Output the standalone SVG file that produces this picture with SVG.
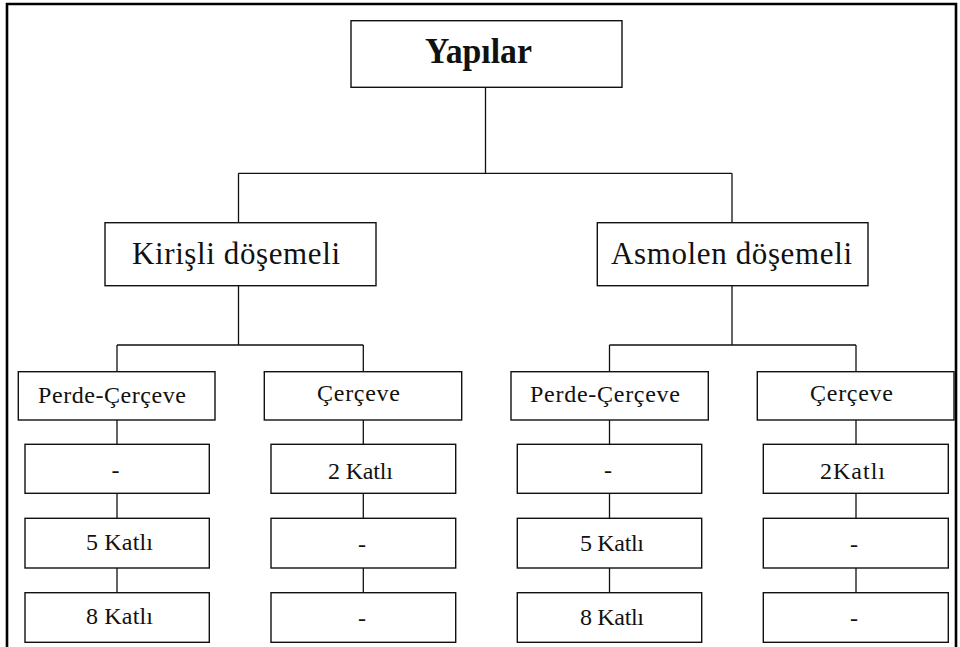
<svg xmlns="http://www.w3.org/2000/svg" width="960" height="647" viewBox="0 0 960 647">
<style>
.bx{fill:#fff;stroke:#111;stroke-width:1.4}
.cn{fill:none;stroke:#111;stroke-width:1.3}
.fr{fill:none;stroke:#000;stroke-width:2.6}
text{font-family:"Liberation Serif","Times New Roman",serif;fill:#111}
.t1{font-size:35px;font-weight:bold}
.t2{font-size:31px}
.t3{font-size:24px}
.m{text-anchor:middle}
</style>
<rect width="960" height="647" fill="#fff"/>
<path class="fr" d="M7,647 V4 H956 V647"/>
<g id="connectors">
<path class="cn" d="M485.5,87 V173.3 M238.5,173.3 H732 M238.5,173.3 V222.7 M732,173.3 V222.7"/>
<path class="cn" d="M238.5,285.7 V345 M117,345 H363.3 M117,345 V371.7 M363.3,345 V371.7"/>
<path class="cn" d="M732,285.7 V345 M609.5,345 H856 M609.5,345 V371.7 M856,345 V371.7"/>
<path class="cn" d="M117,420 V444.3 M117,493.3 V518.3 M117,568 V592.7"/>
<path class="cn" d="M363.3,420 V444.3 M363.3,493.3 V518.3 M363.3,568 V592.7"/>
<path class="cn" d="M609.5,420 V444.3 M609.5,493.3 V518.3 M609.5,568 V592.7"/>
<path class="cn" d="M856,420 V444.3 M856,493.3 V518.3 M856,568 V592.7"/>
</g>
<g id="yapilar"><rect class="bx" x="351" y="20.7" width="271" height="66.6"/><text class="t1" x="425" y="63.3" textLength="107" lengthAdjust="spacingAndGlyphs">Yapılar</text></g>
<g id="kirisli"><rect class="bx" x="105" y="222.7" width="271" height="63"/><text class="t2" x="132" y="264" textLength="208" lengthAdjust="spacing">Kirişli döşemeli</text></g>
<g id="asmolen"><rect class="bx" x="597.3" y="222.7" width="270.7" height="63"/><text class="t2" x="611" y="264" textLength="241" lengthAdjust="spacing">Asmolen döşemeli</text></g>
<g id="k-perde"><rect class="bx" x="18.3" y="371.7" width="196.7" height="48.3"/><text class="t3" x="38" y="403" textLength="148" lengthAdjust="spacing">Perde-Çerçeve</text></g>
<g id="k-cerceve"><rect class="bx" x="264.3" y="371.7" width="197.4" height="48.3"/><text class="t3" x="317" y="401" textLength="83" lengthAdjust="spacing">Çerçeve</text></g>
<g id="a-perde"><rect class="bx" x="511" y="371.7" width="197.3" height="48.3"/><text class="t3" x="530" y="402" textLength="150" lengthAdjust="spacing">Perde-Çerçeve</text></g>
<g id="a-cerceve"><rect class="bx" x="757.3" y="371.7" width="196.7" height="48.3"/><text class="t3" x="810" y="401" textLength="83" lengthAdjust="spacing">Çerçeve</text></g>
<g id="k-p1"><rect class="bx" x="25" y="444.3" width="184.3" height="49"/><text class="t3 m" x="115.5" y="478">-</text></g>
<g id="k-p2"><rect class="bx" x="25" y="518.3" width="184.3" height="49.7"/><text class="t3" x="86" y="550" textLength="67" lengthAdjust="spacing">5 Katlı</text></g>
<g id="k-p3"><rect class="bx" x="25" y="592.7" width="184.3" height="49.6"/><text class="t3" x="86" y="624" textLength="67" lengthAdjust="spacing">8 Katlı</text></g>
<g id="k-c1"><rect class="bx" x="271" y="444.3" width="184.7" height="49"/><text class="t3" x="328" y="478.5" textLength="65" lengthAdjust="spacing">2 Katlı</text></g>
<g id="k-c2"><rect class="bx" x="271" y="518.3" width="184.7" height="49.7"/><text class="t3 m" x="362" y="552">-</text></g>
<g id="k-c3"><rect class="bx" x="271" y="592.7" width="184.7" height="49.6"/><text class="t3 m" x="362" y="626">-</text></g>
<g id="a-p1"><rect class="bx" x="517.3" y="444.3" width="184.4" height="49"/><text class="t3 m" x="608" y="478">-</text></g>
<g id="a-p2"><rect class="bx" x="517.3" y="518.3" width="184.4" height="49.7"/><text class="t3" x="580" y="551" textLength="64" lengthAdjust="spacing">5 Katlı</text></g>
<g id="a-p3"><rect class="bx" x="517.3" y="592.7" width="184.4" height="49.6"/><text class="t3" x="580" y="624.5" textLength="64" lengthAdjust="spacing">8 Katlı</text></g>
<g id="a-c1"><rect class="bx" x="763.3" y="444.3" width="185" height="49"/><text class="t3" x="820" y="479" textLength="65" lengthAdjust="spacing">2Katlı</text></g>
<g id="a-c2"><rect class="bx" x="763.3" y="518.3" width="185" height="49.7"/><text class="t3 m" x="854" y="552">-</text></g>
<g id="a-c3"><rect class="bx" x="763.3" y="592.7" width="185" height="49.6"/><text class="t3 m" x="854" y="626">-</text></g>
</svg>
